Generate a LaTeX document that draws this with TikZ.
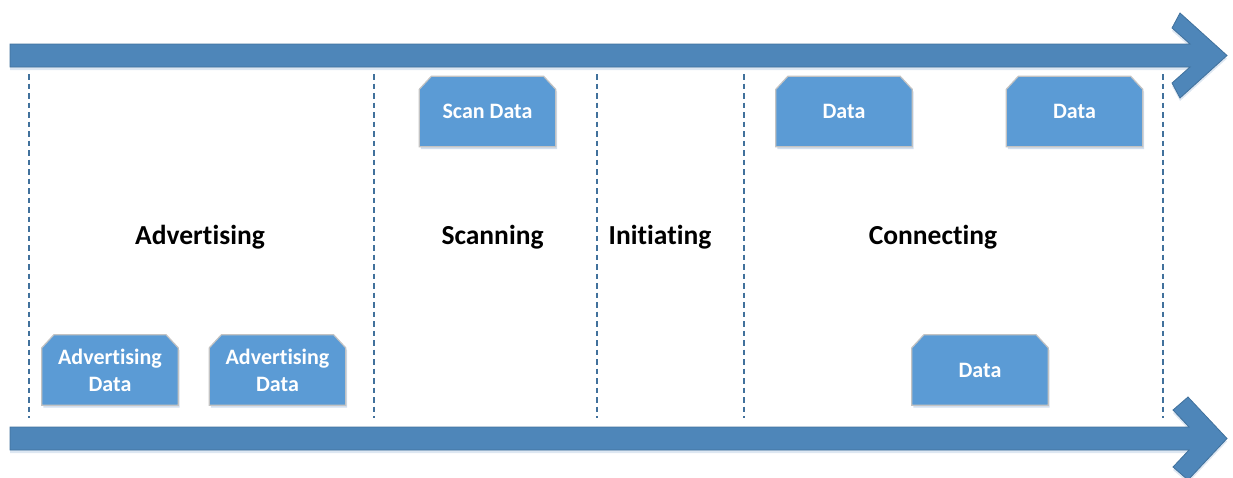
\documentclass[tikz,border=0pt]{standalone}
\usepackage{fontspec}
\setmainfont{Carlito}[Ligatures={NoCommon}, RawFeature={-liga}]
\usetikzlibrary{calc,backgrounds,shadows}
\definecolor{arrowfill}{HTML}{4E86B9}
\definecolor{arrowline}{HTML}{41719C}
\definecolor{boxfill}{HTML}{5B9BD5}
\definecolor{boxline}{HTML}{C3C3C3}
\definecolor{shadowc}{HTML}{9DB9D9}
\tikzset{
  phase/.style={font=\fontsize{27.5}{30}\selectfont\bfseries, text=black, inner sep=0pt},
  databox/.style={minimum width=136pt, minimum height=70pt, inner sep=0pt, align=center,
    text=white, font=\fontsize{22}{27}\selectfont\bfseries},
  boxshape/.style={fill=boxfill, draw=boxline, line width=1.2pt,
    drop shadow={shadow xshift=1.5pt, shadow yshift=-2.5pt, fill=shadowc, opacity=0.45}},
  bigarrow/.style={fill=arrowfill, draw=arrowline, line width=0.8pt, line join=miter,
    drop shadow={shadow xshift=0pt, shadow yshift=-3pt, fill=shadowc, opacity=0.35}},
  divider/.style={draw=arrowline, line width=2.2pt, dash pattern=on 5.5pt off 4pt}
}
\begin{document}
\begin{tikzpicture}[x=1pt,y=-1pt]
\useasboundingbox (0,0) rectangle (1233,477);
% arrows
\path[bigarrow] (10,44) -- (1190,44) -- (1172,28) -- (1180,13) -- (1227,55.5) -- (1180,98) -- (1172,83) -- (1190,67) -- (10,67) -- cycle;
\path[bigarrow] (10,427) -- (1189,427) -- (1173,410) -- (1188,397) -- (1227,438.5) -- (1188,480) -- (1173,467) -- (1189,450) -- (10,450) -- cycle;
% dividers
\foreach \x in {29,374,597,744,1163} \draw[divider] (\x,74) -- (\x,418);
% labels
\node[phase] (adv) at (200,237) {Advertising};
\node[phase] (scn) at (492.5,237) {Scanning};
\node[phase] (ini) at (660,237) {Initiating};
\node[phase] (con) at (933,237) {Connecting};
% boxes
\node[databox] (ad1) at (110,370) {Advertising\\Data};
\node[databox] (ad2) at (277.5,370) {Advertising\\Data};
\node[databox] (scan) at (487.5,111.5) {\raisebox{-1.5pt}{Scan Data}};
\node[databox] (d1) at (844,111.5) {\raisebox{-1.5pt}{Data}};
\node[databox] (d2) at (1074.5,111.5) {\raisebox{-1.5pt}{Data}};
\node[databox] (d3) at (980,370) {Data};
\begin{scope}[on background layer]
\foreach \n in {ad1,ad2,scan,d1,d2,d3}
  \path[boxshape] (\n.south west) -- ($(\n.north west)+(0,13)$) -- ($(\n.north west)+(12,0)$)
    -- ($(\n.north east)+(-12,0)$) -- ($(\n.north east)+(0,13)$) -- (\n.south east) -- cycle;
\end{scope}
\end{tikzpicture}
\end{document}
